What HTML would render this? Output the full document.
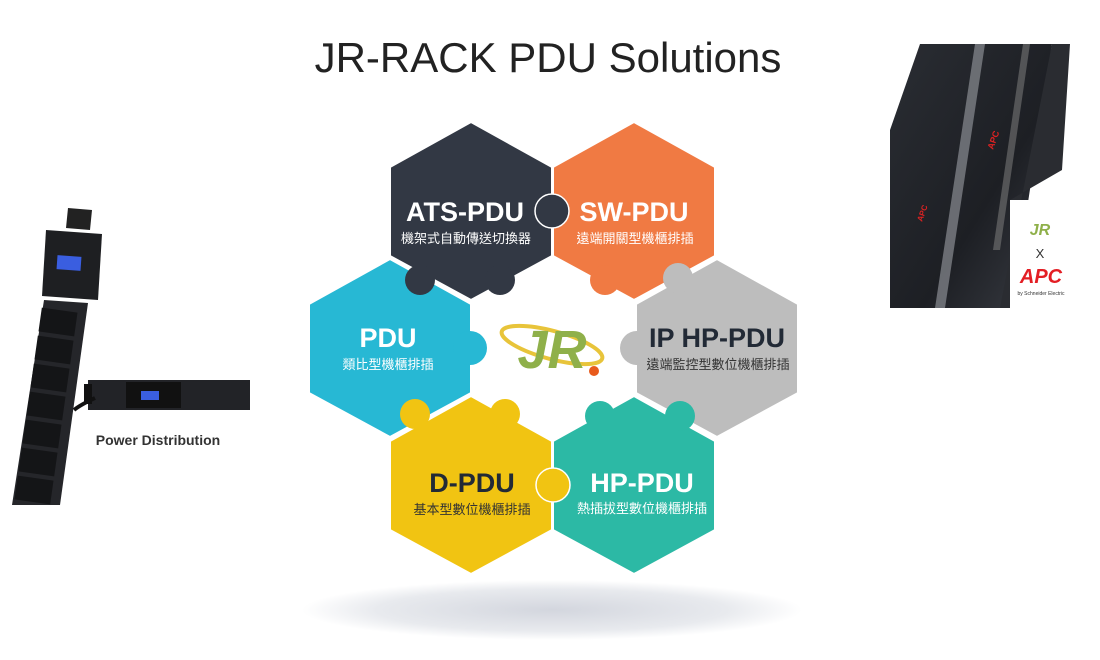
<!DOCTYPE html>
<html><head><meta charset="utf-8"><style>
html,body{margin:0;padding:0;background:#fff;width:1100px;height:660px;overflow:hidden}
svg{display:block}
.t{font-family:"Liberation Sans","Noto Sans CJK TC",sans-serif}
</style></head><body>
<svg width="1100" height="660" viewBox="0 0 1100 660" xmlns="http://www.w3.org/2000/svg">
<defs>
<radialGradient id="sh" cx="50%" cy="50%" r="50%">
<stop offset="0" stop-color="#d3d6de"/><stop offset="0.7" stop-color="#e8eaee"/><stop offset="1" stop-color="#fff"/>
</radialGradient>
<linearGradient id="rg" x1="0" y1="0" x2="1" y2="1">
<stop offset="0" stop-color="#2a2d33"/><stop offset="0.6" stop-color="#1d1f24"/><stop offset="1" stop-color="#3a3d44"/>
</linearGradient>
</defs>
<text x="548" y="72" text-anchor="middle" class="t" font-size="42" fill="#222">JR-RACK PDU Solutions</text>

<ellipse cx="552" cy="610" rx="250" ry="30" fill="url(#sh)"/>

<g stroke="#fff" stroke-width="2">
<polygon points="471,122 552,167 552,256 471,300 390,256 390,167" fill="#323844"/>
<polygon points="634,122 715,167 715,256 634,300 553,256 553,167" fill="#f07a43"/>
<polygon points="390,259 471,304 471,393 390,437 309,393 309,304" fill="#27b8d4"/>
<polygon points="717,259 798,304 798,393 717,437 636,393 636,304" fill="#bdbdbd"/>
<polygon points="471,396 552,441 552,530 471,574 390,530 390,441" fill="#f1c412"/>
<polygon points="634,396 715,441 715,530 634,574 553,530 553,441" fill="#2cb9a5"/>
</g>
<g>
<circle cx="552" cy="211" r="17" fill="#323844" stroke="#fff" stroke-width="1.5"/>
<circle cx="420" cy="280" r="15" fill="#323844"/>
<circle cx="500" cy="280" r="15" fill="#323844"/>
<circle cx="605" cy="280" r="15" fill="#f07a43"/>
<circle cx="678" cy="278" r="15" fill="#bdbdbd"/>
<circle cx="470" cy="348" r="17" fill="#27b8d4"/>
<circle cx="637" cy="348" r="17" fill="#bdbdbd"/>
<circle cx="415" cy="414" r="15" fill="#f1c412"/>
<circle cx="505" cy="414" r="15" fill="#f1c412"/>
<circle cx="600" cy="416" r="15" fill="#2cb9a5"/>
<circle cx="680" cy="416" r="15" fill="#2cb9a5"/>
<circle cx="553" cy="485" r="17" fill="#f1c412" stroke="#fff" stroke-width="1.5"/>
</g>
<g class="t" text-anchor="middle" font-weight="bold">
<text x="465" y="221" font-size="27" fill="#fff">ATS-PDU</text>
<text x="634" y="221" font-size="27" fill="#fff">SW-PDU</text>
<text x="388" y="347" font-size="27" fill="#fff">PDU</text>
<text x="717" y="347" font-size="27" fill="#222a36">IP HP-PDU</text>
<text x="472" y="492" font-size="27" fill="#222a36">D-PDU</text>
<text x="642" y="492" font-size="27" fill="#fff">HP-PDU</text>
</g>
<g class="t" text-anchor="middle" font-size="13">
<text x="466" y="243" fill="#fff">機架式自動傳送切換器</text>
<text x="635" y="243" fill="#fff">遠端開關型機櫃排插</text>
<text x="388" y="369" fill="#fff">類比型機櫃排插</text>
<text x="718" y="369" fill="#333">遠端監控型數位機櫃排插</text>
<text x="472" y="514" fill="#333">基本型數位機櫃排插</text>
<text x="642" y="513" fill="#fff">熱插拔型數位機櫃排插</text>
</g>
<ellipse cx="552" cy="345" rx="52" ry="14" fill="none" stroke="#e8c43a" stroke-width="4" transform="rotate(15 552 345)"/>
<text x="552" y="368" text-anchor="middle" class="t" font-size="54" font-weight="bold" font-style="italic" fill="#8fb04a">JR</text>
<circle cx="594" cy="371" r="5" fill="#e85a1c"/>

<polygon points="68,208 92,210 90,230 66,228" fill="#222"/>
<polygon points="46,230 102,234 98,300 42,296" fill="#1e1f22"/>
<rect x="57" y="256" width="24" height="14" fill="#3a5ee0" transform="rotate(4 69 263)"/>
<polygon points="44,300 88,303 60,505 12,505" fill="#25262a"/>
<g fill="#141517">
<rect x="40" y="310" width="36" height="24" transform="rotate(8 58 322)"/>
<rect x="36" y="338" width="36" height="24" transform="rotate(8 54 350)"/>
<rect x="32" y="366" width="36" height="24" transform="rotate(8 50 378)"/>
<rect x="28" y="394" width="36" height="24" transform="rotate(8 46 406)"/>
<rect x="24" y="422" width="36" height="24" transform="rotate(8 42 434)"/>
<rect x="20" y="450" width="36" height="24" transform="rotate(8 38 462)"/>
<rect x="16" y="478" width="36" height="24" transform="rotate(8 34 490)"/>
</g>
<rect x="88" y="380" width="162" height="30" fill="#222327"/>
<rect x="84" y="384" width="8" height="20" fill="#111"/>
<rect x="126" y="382" width="55" height="26" fill="#111"/>
<rect x="141" y="391" width="18" height="9" fill="#3a5ee0"/>
<path d="M95 398 Q80 405 74 410" stroke="#111" stroke-width="4" fill="none"/>
<text x="158" y="445" text-anchor="middle" class="t" font-size="14" font-weight="bold" fill="#333">Power Distribution</text>

<rect x="890" y="44" width="195" height="264" fill="#fff"/>
<polygon points="920,44 1052,44 1012,308 890,308 890,130" fill="url(#rg)"/>
<polygon points="1052,44 1070,44 1062,170 1010,200 1010,308 1000,308" fill="#2a2c31"/>
<polygon points="975,44 985,44 945,308 935,308" fill="#8a8d93" opacity="0.7"/>
<polygon points="1023,44 1030,44 1000,250 993,250" fill="#777" opacity="0.6"/>
<text x="993" y="150" class="t" font-size="9" font-weight="bold" fill="#d22" transform="rotate(-70 993 150)">APC</text>
<text x="922" y="222" class="t" font-size="8" font-weight="bold" fill="#d22" transform="rotate(-70 922 222)">APC</text>
<rect x="1010" y="200" width="75" height="108" fill="#fff"/>
<text x="1040" y="235" text-anchor="middle" class="t" font-size="16" font-weight="bold" font-style="italic" fill="#8fb04a">JR</text>
<text x="1040" y="258" text-anchor="middle" class="t" font-size="13" fill="#333">X</text>
<text x="1041" y="283" text-anchor="middle" class="t" font-size="20" font-weight="bold" font-style="italic" fill="#e31e24">APC</text>
<text x="1041" y="295" text-anchor="middle" class="t" font-size="5" fill="#333">by Schneider Electric</text>
</svg>
</body></html>
